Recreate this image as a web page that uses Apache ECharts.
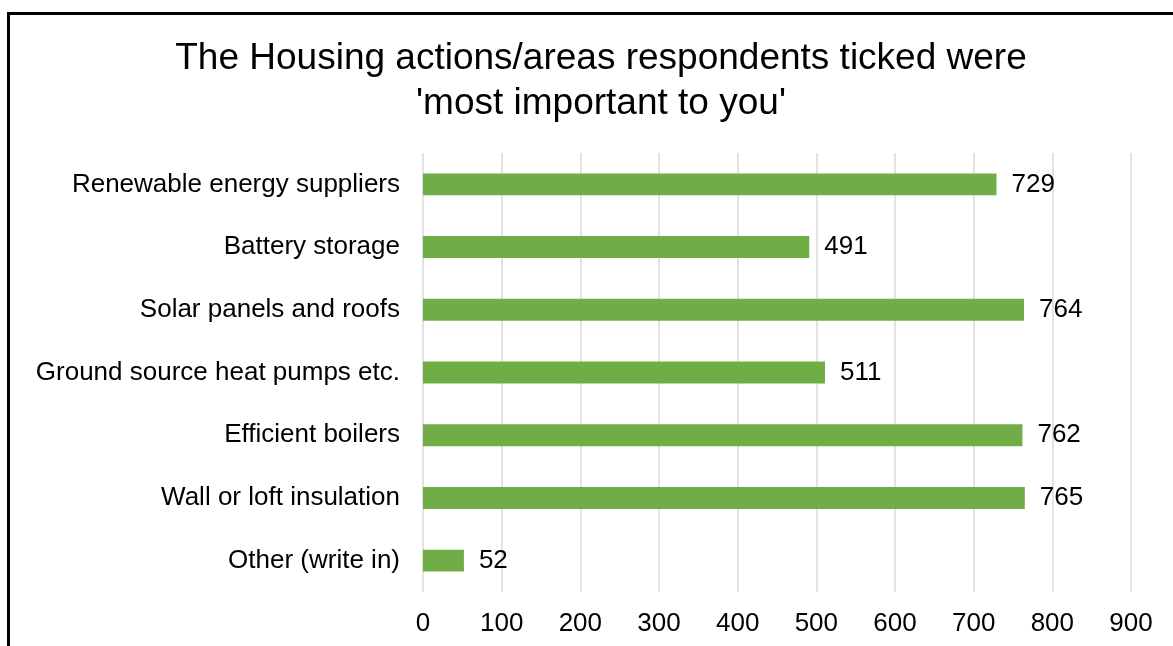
<!DOCTYPE html>
<html>
<head>
<meta charset="utf-8">
<script src="https://cdn.jsdelivr.net/npm/echarts@6/dist/echarts.min.js"></script>
<style>
  html, body { margin: 0; padding: 0; background: #fff; }
  #frame { position: absolute; left: 7px; top: 12px; width: 1180px; height: 650px; border-top: 3px solid #000; border-left: 3px solid #000; }
  #chart { position: absolute; left: 0; top: 0; width: 1173px; height: 646px; }
</style>
</head>
<body>
<div id="frame"></div>
<div id="chart"></div>
<script>
// categories, top to bottom
const categories = ['Renewable energy suppliers', 'Battery storage', 'Solar panels and roofs', 'Ground source heat pumps etc.', 'Efficient boilers', 'Wall or loft insulation', 'Other (write in)']
const counts = [729, 491, 764, 511, 762, 765, 52]
const titleLines = ['The Housing actions/areas respondents ticked were', '\'most important to you\'']

const myChart = echarts.init(document.getElementById('chart'))
const font = '"Liberation Sans", Arial, sans-serif'

const option = {
  animation: false,
  title: {
    text: titleLines.join('\n'),
    left: 596,
    textAlign: 'center',
    top: 31,
    textStyle: {
      fontFamily: font,
      fontSize: 37,
      fontWeight: 'normal',
      color: '#000',
      lineHeight: 45
    }
  },
  grid: {
    left: 423,
    right: 42,
    top: 153,
    bottom: 54,
    containLabel: false
  },
  xAxis: {
    type: 'value',
    min: 0,
    max: 900,
    interval: 100,
    axisLine: { show: false },
    axisTick: { show: false },
    splitLine: { lineStyle: { color: '#d9d9d9', width: 1.5 } },
    axisLabel: {
      fontFamily: font,
      fontSize: 26,
      color: '#000',
      margin: 19
    }
  },
  yAxis: {
    type: 'category',
    inverse: true,
    data: categories,
    axisLine: { show: false },
    axisTick: { show: false },
    axisLabel: {
      fontFamily: font,
      fontSize: 26,
      color: '#000',
      margin: 23
    }
  },
  series: [{
    type: 'bar',
    data: counts,
    barCategoryGap: '65%',
    itemStyle: { color: '#70ad47' },
    label: {
      show: true,
      position: 'right',
      distance: 15,
      fontFamily: font,
      fontSize: 26,
      color: '#000'
    }
  }]
}

myChart.setOption(option)
</script>
</body>
</html>
